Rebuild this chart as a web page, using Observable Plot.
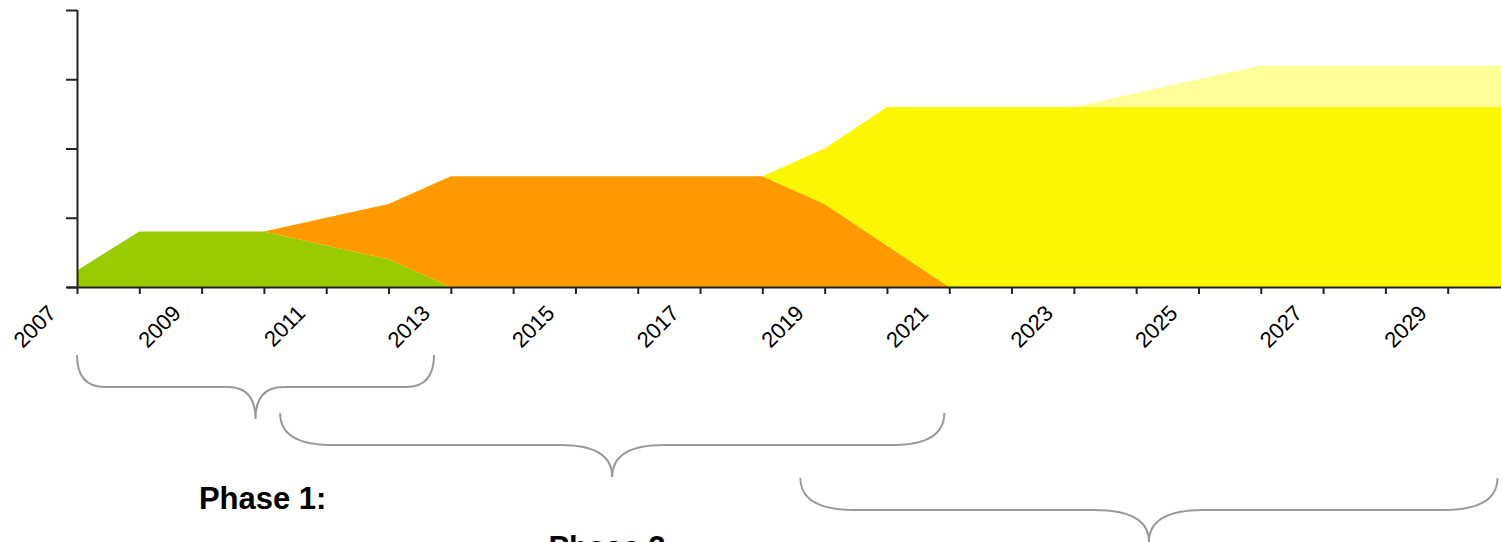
<!DOCTYPE html>
<html>
<head>
<meta charset="utf-8">
<script src="https://cdn.jsdelivr.net/npm/d3@7"></script>
<script src="https://cdn.jsdelivr.net/npm/@observablehq/plot@0.6"></script>
<style>
  html, body { margin: 0; padding: 0; background: #fff; overflow: hidden; }
</style>
</head>
<body>
<div id="chart"></div>
<script>
// ---- data ----
const years       = [2007,2008,2009,2010,2011,2012,2013,2014,2015,2016,2017,2018,2019,2020,2021,2022,2023,2024,2025,2026,2027,2028,2029,2030];
const phase1      = [6,20,20,20,15,10,0,0,0,0,0,0,0,0,0,0,0,0,0,0,0,0,0,0];
const phase2      = [0,0,0,0,10,20,40,40,40,40,40,40,30,15,0,0,0,0,0,0,0,0,0,0];
const phase3      = [0,0,0,0,0,0,0,0,0,0,0,0,20,50,65,65,65,65,65,65,65,65,65,65];
const phase3ext   = [0,0,0,0,0,0,0,0,0,0,0,0,0,0,0,0,0,5,10,15,15,15,15,15];
const seriesNames = ["Phase 1", "Phase 2", "Phase 3", "Phase 3 extension"];
const seriesColors = ["#99cc00", "#ff9900", "#fcf700", "#ffff99"];
const yTicks      = [0, 25, 50, 75, 100];
const labelYears  = [2007,2009,2011,2013,2015,2017,2019,2021,2023,2025,2027,2029];

// phase braces (year spans) and labels
const braceStart  = [2007, 2010.26, 2018.61];
const braceEnd    = [2012.73, 2020.92, 2029.8];
const phaseLabels = ["Phase 1:", "Phase 2:"];
const phaseLabelX = [2009.98, 2015.59];

// ---- table ----
const seriesValues = [phase1, phase2, phase3, phase3ext];
const rows = [];
seriesNames.forEach((name, s) => {
  years.forEach((yr, i) => rows.push({year: yr, series: name, value: seriesValues[s][i]}));
});

// ---- layout ----
const braceTopOffset = [68, 126, 191];   // px below the x axis
const braceHalf = 32;
const labelBaseOffset = [222, 271];

function braces(index, scales) {
  const {x, y} = scales;
  const base = y(0);
  const g = d3.create("svg:g");
  braceStart.forEach((s, i) => {
    const x1 = x(s), x2 = x(braceEnd[i]), xm = (x1 + x2) / 2;
    const t = base + braceTopOffset[i], h = braceHalf, q = 0.078 * (x2 - x1);
    const d = `M${x1},${t} Q${x1},${t + h} ${x1 + q},${t + h} L${xm - q},${t + h} ` +
              `Q${xm},${t + h} ${xm},${t + 2 * h} Q${xm},${t + h} ${xm + q},${t + h} ` +
              `L${x2 - q},${t + h} Q${x2},${t + h} ${x2},${t}`;
    g.append("path").attr("d", d).attr("fill", "none")
      .attr("stroke", "#999").attr("stroke-width", 2);
  });
  phaseLabels.forEach((lab, i) => {
    g.append("text")
      .attr("x", x(phaseLabelX[i]))
      .attr("y", base + labelBaseOffset[i])
      .attr("text-anchor", "middle")
      .attr("font-size", 31)
      .attr("font-weight", "bold")
      .attr("fill", "#000")
      .text(lab);
  });
  return g.node();
}

const chart = Plot.plot({
  width: 1501,
  height: 542,
  marginLeft: 77,
  marginRight: 0,
  marginTop: 10,
  marginBottom: 255,
  style: {fontFamily: "'Liberation Sans', Arial, sans-serif", overflow: "hidden", maxWidth: "none", background: "#fff"},
  x: {domain: [2007, 2030], range: [77, 1510], label: null},
  y: {domain: [0, 100], label: null},
  color: {domain: seriesNames, range: seriesColors},
  marks: [
    Plot.areaY(rows, {x: "year", y: "value", fill: "series", order: seriesNames, curve: "linear"}),
    Plot.ruleY([0], {x1: 2006.84, x2: 2030, stroke: "#222", strokeWidth: 2}),
    Plot.ruleX([2007], {y1: 0, y2: 100, stroke: "#222", strokeWidth: 2}),
    Plot.axisY({ticks: yTicks, tickSize: 11, tickFormat: () => "", label: null, stroke: "#222", strokeWidth: 2}),
    Plot.axisX({ticks: years, tickSize: 7, tickFormat: () => "", label: null, stroke: "#222", strokeWidth: 2}),
    Plot.text(labelYears, {x: d => d, frameAnchor: "bottom", text: d => String(d),
      rotate: -45, textAnchor: "end", lineAnchor: "middle", dx: -25, dy: 22,
      fontSize: 22, fill: "#000"}),
    braces
  ]
});
document.getElementById("chart").appendChild(chart);
</script>
</body>
</html>
